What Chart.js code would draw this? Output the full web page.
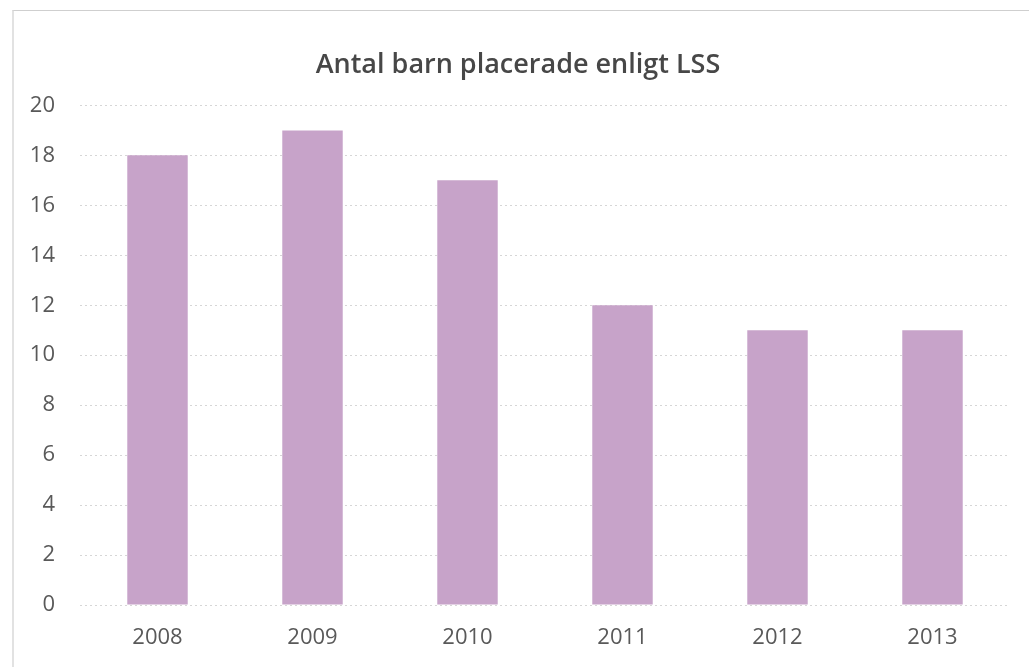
<!DOCTYPE html>
<html>
<head>
<meta charset="utf-8">
<script src="https://cdn.jsdelivr.net/npm/chart.js@4/dist/chart.umd.min.js"></script>
<style>
  body { margin: 0; background: #fff; }
  #ram { position: absolute; left: 12px; top: 10px; width: 1017px; height: 657px;
         border-left: 2px solid #e2e2e2; border-top: 1px solid #cfcfcf; }
  #myChart { position: absolute; left: 0; top: 0; }
</style>
</head>
<body>
<div id="ram"></div>
<canvas id="myChart" width="1029" height="667"></canvas>
<script>
// Data
const ar = ['2008', '2009', '2010', '2011', '2012', '2013'];
const antalBarn = [18, 19, 17, 12, 11, 11];
const yTicks = [0, 2, 4, 6, 8, 10, 12, 14, 16, 18, 20];

const textFarg = '#595959';
const typsnitt = "'Open Sans', 'Noto Sans', sans-serif";

const ctx = document.getElementById('myChart');

new Chart(ctx, {
  type: 'bar',
  data: {
    labels: ar,
    datasets: [{
      label: 'Antal barn',
      data: antalBarn,
      backgroundColor: '#c7a3c9',
      borderWidth: 0,
      barPercentage: 0.39,
      categoryPercentage: 1
    }]
  },
  options: {
    responsive: false,
    animation: false,
    layout: { padding: { left: 26, right: 19, top: 0, bottom: 0 } },
    plugins: {
      legend: { display: false },
      tooltip: { enabled: false },
      title: {
        display: true,
        text: 'Antal barn placerade enligt LSS',
        color: '#474747',
        font: { family: typsnitt, size: 27, weight: '600' },
        padding: { top: 49, bottom: 24 }
      }
    },
    scales: {
      x: {
        grid: { display: false, drawTicks: false },
        border: { display: false },
        ticks: { color: textFarg, font: { family: typsnitt, size: 22 }, padding: 20 },
        afterFit: (scale) => { scale.height = 62; }
      },
      y: {
        min: 0,
        max: 20,
        afterBuildTicks: (scale) => { scale.ticks = yTicks.map(v => ({ value: v })); },
        grid: { color: '#d6d6d6', drawTicks: false },
        border: { display: false, dash: [2, 3] },
        ticks: { color: textFarg, font: { family: typsnitt, size: 22 }, padding: 25 },
        afterFit: (scale) => { scale.width = 54; }
      }
    }
  }
});
</script>
</body>
</html>
